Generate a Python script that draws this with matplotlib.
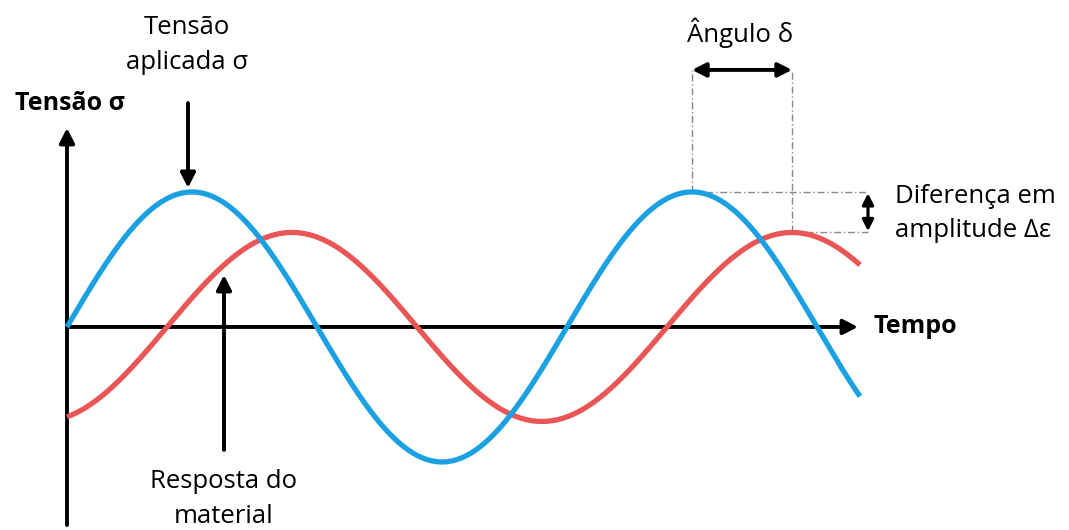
import numpy as np
import matplotlib.pyplot as plt

# tempo em periodos, amplitudes normalizadas pela tensao aplicada
t_fim = 1.586
amp_tensao = 1.0
amp_resposta = 0.70
atraso = 0.20  # fracao do periodo (angulo delta)

t = np.linspace(0, t_fim, 600)
tensao = amp_tensao * np.sin(2 * np.pi * t)
resposta = amp_resposta * np.sin(2 * np.pi * (t - atraso))

t_pico = 1.25
t_pico_resp = t_pico + atraso

azul = '#1ba1e2'
vermelho = '#ea5555'
fonte = 'Open Sans'

fig = plt.figure(figsize=(10.69, 5.30), dpi=100)
ax = fig.add_axes([0, 0, 1, 1])
ax.set_xlim(-0.134, 2.004)
ax.set_ylim(-1.504, 2.422)
ax.axis('off')

seta = dict(arrowstyle='-|>,head_length=0.55,head_width=0.28', color='black',
            lw=2.8, mutation_scale=16, shrinkA=0, shrinkB=0)

# eixos
ax.annotate('', xy=(0, 1.474), xytext=(0, -1.467), arrowprops=seta)
ax.annotate('', xy=(1.582, 0), xytext=(0, 0), arrowprops=seta)

# curvas
ax.plot(t, resposta, color=vermelho, lw=3.8, solid_capstyle='butt', zorder=3)
ax.plot(t, tensao, color=azul, lw=3.8, solid_capstyle='butt', zorder=4)

# linhas tracejadas de referencia
ref = dict(color='#888888', lw=1, ls=(0, (5, 2, 1, 2)), zorder=2)
ax.plot([t_pico, t_pico], [amp_tensao, 1.904], **ref)
ax.plot([t_pico_resp, t_pico_resp], [amp_resposta, 1.904], **ref)
ax.plot([t_pico, 1.602], [amp_tensao, amp_tensao], **ref)
ax.plot([t_pico_resp, 1.602], [amp_resposta, amp_resposta], **ref)

dupla = dict(arrowstyle='<|-|>,head_length=0.55,head_width=0.28', color='black',
             lw=2.8, mutation_scale=15, shrinkA=0, shrinkB=0)
ax.annotate('', xy=(t_pico_resp, 1.904), xytext=(t_pico, 1.904), arrowprops=dupla)
dupla_v = dict(dupla, lw=2.3, mutation_scale=12)
ax.annotate('', xy=(1.602, amp_resposta + 0.01), xytext=(1.602, amp_tensao - 0.01),
            arrowprops=dupla_v)

# setas indicativas
ax.annotate('', xy=(0.242, 1.03), xytext=(0.242, 1.659), arrowprops=seta)
ax.annotate('', xy=(0.314, 0.385), xytext=(0.314, -0.911), arrowprops=seta)

# textos
ax.text(0.24, 2.09, 'Tensão\naplicada σ', ha='center', va='center',
        fontsize=18.5, family=fonte, linespacing=1.5)
ax.text(0.314, -1.275, 'Resposta do\nmaterial', ha='center', va='center',
        fontsize=18.5, family=fonte, linespacing=1.5)
ax.text(1.346, 2.178, 'Ângulo δ', ha='center', va='center',
        fontsize=18.5, family=fonte)
ax.text(1.656, 0.84, 'Diferença em\namplitude Δε', ha='left', va='center',
        fontsize=18.5, family=fonte, linespacing=1.5)
ax.text(0.006, 1.659, 'Tensão σ', ha='center', va='center',
        fontsize=18, family=fonte, fontweight='bold')
ax.text(1.612, 0, 'Tempo', ha='left', va='center',
        fontsize=18, family=fonte, fontweight='bold')

fig.savefig('out.png', dpi=100, facecolor='white')
